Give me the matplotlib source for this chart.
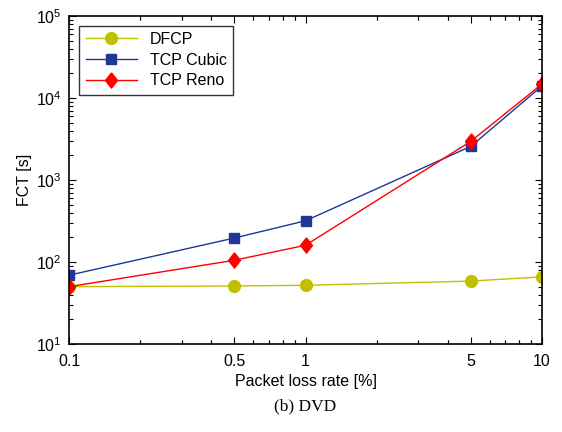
import matplotlib
matplotlib.use("Agg")
import matplotlib.pyplot as plt
from matplotlib.ticker import LogLocator, NullFormatter, FixedLocator, FixedFormatter

plt.rcParams['font.family'] = ['Liberation Sans', 'DejaVu Sans']

loss_rate = [0.1, 0.5, 1, 5, 10]
xtick_labels = ['0.1', '0.5', '1', '5', '10']
dfcp = [50, 51, 52, 58.5, 66]
cubic = [69, 196, 318, 2570, 14000]
reno = [50, 105, 160, 2960, 14800]

diamond = [(0, 1), (0.78, 0), (0, -1), (-0.78, 0), (0, 1)]

fig = plt.figure(figsize=(5.62, 4.32), dpi=100)
ax = fig.add_axes([0.1228, 0.2037, 0.9644 - 0.1228, 0.963 - 0.2037])

ax.plot(loss_rate, dfcp, color='#c0c000', marker='o', markersize=8.5, lw=1.0, label='DFCP')
ax.plot(loss_rate, cubic, color='#1f3799', marker='s', markersize=7, lw=1.0, label='TCP Cubic')
ax.plot(loss_rate, reno, color='#ff0000', marker=diamond, markersize=11, lw=1.0, label='TCP Reno')

ax.set_xscale('log')
ax.set_yscale('log')
ax.set_xlim(0.1, 10)
ax.set_ylim(10, 1e5)
ax.xaxis.set_major_locator(FixedLocator(loss_rate))
ax.xaxis.set_major_formatter(FixedFormatter(xtick_labels))
ax.xaxis.set_minor_locator(LogLocator(base=10, subs=[0.2, 0.3, 0.4, 0.6, 0.7, 0.8, 0.9, 2, 3, 4, 6, 7, 8, 9]))
ax.xaxis.set_minor_formatter(NullFormatter())
ax.yaxis.set_major_locator(LogLocator(base=10, numticks=10))
ax.yaxis.set_minor_locator(LogLocator(base=10, subs=range(2, 10), numticks=20))
ax.yaxis.set_minor_formatter(NullFormatter())

ax.tick_params(which='both', direction='in', top=True, right=True, labelsize=11.5, width=0.8)
ax.tick_params(which='major', length=5)
ax.tick_params(which='minor', length=3)
ax.tick_params(axis='x', which='major', pad=7)
ax.tick_params(axis='y', which='major', pad=5)
for s in ax.spines.values():
    s.set_linewidth(1.2)

ax.set_xlabel('Packet loss rate [%]', fontsize=11.5, labelpad=4)
ax.set_ylabel('FCT [s]', fontsize=11.5, labelpad=3)

leg = ax.legend(loc='upper left', fontsize=11.5, frameon=True, fancybox=False,
                edgecolor='black', handlelength=3.2, borderpad=0.4, labelspacing=0.35,
                bbox_to_anchor=(0.005, 0.995))
leg.get_frame().set_linewidth(1.0)

fig.text(0.543, 0.06, '(b) DVD', ha='center', va='center', fontsize=12.5,
         family=['Liberation Serif', 'DejaVu Serif'])

fig.savefig('out.png', dpi=100)
